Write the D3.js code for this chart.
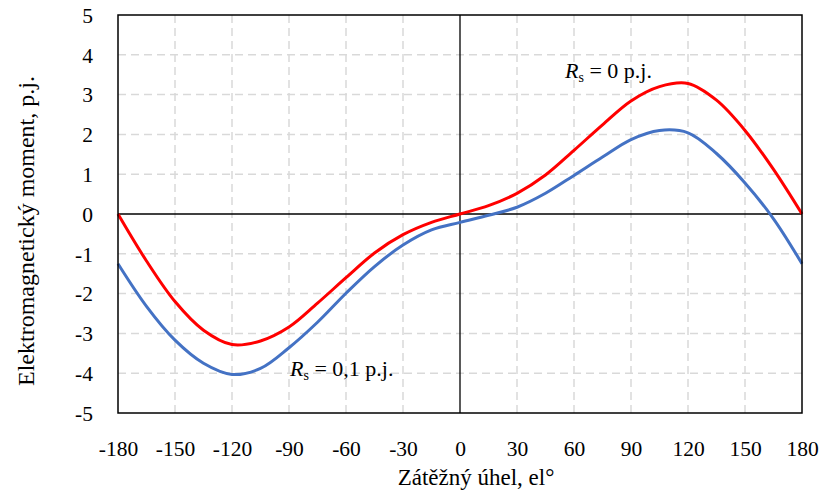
<!DOCTYPE html>
<html>
<head>
<meta charset="utf-8">
<script src="https://cdn.jsdelivr.net/npm/d3@7"></script>
<style>
  body { margin: 0; background: #fff; }
  text { font-family: "Liberation Serif", serif; fill: #000; }
</style>
</head>
<body>
<div id="chart"></div>
<script>
// load angle in el. degrees, torque in p.u.
const xTicks = [-180, -150, -120, -90, -60, -30, 0, 30, 60, 90, 120, 150, 180];
const yTicks = [-5, -4, -3, -2, -1, 0, 1, 2, 3, 4, 5];

const angles = [-180, -165, -150, -135, -120, -105, -90, -75, -60, -45, -30, -15, 0,
                15, 30, 45, 60, 75, 90, 105, 120, 135, 150, 165, 180];

// Rs = 0 p.j.
const redValues = [0, -1.18, -2.2, -2.92, -3.28, -3.19, -2.84, -2.24, -1.6, -0.98, -0.52, -0.21, 0,
                   0.21, 0.52, 0.98, 1.6, 2.24, 2.84, 3.2, 3.28, 2.86, 2.1, 1.12, 0];

// Rs = 0,1 p.j.
const blueValues = [-1.25, -2.32, -3.17, -3.75, -4.03, -3.88, -3.36, -2.72, -1.99, -1.32, -0.78, -0.4, -0.21,
                    -0.03, 0.17, 0.52, 0.97, 1.43, 1.87, 2.1, 2.04, 1.52, 0.78, -0.12, -1.25];

const W = 822, H = 500;
const pLeft = 118, pRight = 802, pTop = 15, pBottom = 413;

let svg = d3.select("#chart")
  .append("svg")
    .attr("width", W)
    .attr("height", H)
;

let x = d3.scaleLinear().domain([-180, 180]).range([pLeft, pRight]);
let y = d3.scaleLinear().domain([-5, 5]).range([pBottom, pTop]);

// dashed grid
let grid = svg.append("g").attr("class", "grid");
grid.selectAll("line.v")
  .data(xTicks.filter(d => d !== 0 && Math.abs(d) !== 180))
  .enter().append("line")
    .attr("class", "v")
    .attr("x1", d => x(d)).attr("x2", d => x(d))
    .attr("y1", pTop).attr("y2", pBottom);
grid.selectAll("line.h")
  .data(yTicks.filter(d => d !== 0 && Math.abs(d) !== 5))
  .enter().append("line")
    .attr("class", "h")
    .attr("x1", pLeft).attr("x2", pRight)
    .attr("y1", d => y(d)).attr("y2", d => y(d));
grid.selectAll("line")
  .attr("stroke", "#d9d9d9")
  .attr("stroke-width", 1.5)
  .attr("stroke-dasharray", "8,5");

// zero axes
svg.append("line")
  .attr("x1", pLeft).attr("x2", pRight)
  .attr("y1", y(0)).attr("y2", y(0))
  .attr("stroke", "#000").attr("stroke-width", 1.3);
svg.append("line")
  .attr("x1", x(0)).attr("x2", x(0))
  .attr("y1", pTop).attr("y2", pBottom)
  .attr("stroke", "#000").attr("stroke-width", 1.3);

// tick labels (plain hyphen as minus, like the original)
let xAxis = svg.append("g")
  .attr("transform", `translate(0,${pBottom})`)
  .call(d3.axisBottom(x).tickValues(xTicks).tickSize(0).tickPadding(43).tickFormat(d => String(d)));
let yAxis = svg.append("g")
  .attr("transform", `translate(${pLeft},0)`)
  .call(d3.axisLeft(y).tickValues(yTicks).tickSize(0).tickPadding(25).tickFormat(d => String(d)));
[xAxis, yAxis].forEach(a => {
  a.select(".domain").remove();
  a.selectAll("text")
    .attr("font-family", "Liberation Serif, serif")
    .attr("font-size", 21.5)
    .attr("fill", "#000");
});
xAxis.selectAll("text").attr("dy", 0);
yAxis.selectAll("text").attr("dy", "0.34em");

// curves
let line = d3.line()
  .x(d => x(d[0]))
  .y(d => y(d[1]))
  .curve(d3.curveCatmullRom.alpha(0.5));

let series = [
  {color: "#4472c4", pts: d3.zip(angles, blueValues)},
  {color: "#ff0000", pts: d3.zip(angles, redValues)}
];
svg.selectAll("path.curve").data(series).enter()
  .append("path")
    .attr("class", "curve")
    .attr("d", d => line(d.pts))
    .attr("fill", "none")
    .attr("stroke", d => d.color)
    .attr("stroke-width", 3)
;

// plot frame
svg.append("rect")
  .attr("x", pLeft).attr("y", pTop)
  .attr("width", pRight - pLeft).attr("height", pBottom - pTop)
  .attr("fill", "none")
  .attr("stroke", "#000")
  .attr("stroke-width", 1.5);

// labels on the curves
function rsLabel(px, py, rest) {
  let t = svg.append("text")
    .attr("x", px).attr("y", py)
    .attr("font-size", 22);
  t.append("tspan").attr("font-style", "italic").text("R");
  t.append("tspan").attr("font-size", 14).attr("dy", 4).text("s");
  t.append("tspan").attr("dy", -4).text(" = " + rest);
}
rsLabel(565, 78, "0 p.j.");
rsLabel(290, 376, "0,1 p.j.");

// axis titles
svg.append("text")
  .attr("x", 476).attr("y", 485)
  .attr("text-anchor", "middle")
  .attr("font-size", 23)
  .text("Zátěžný úhel, el°");

svg.append("text")
  .attr("transform", "translate(34,231) rotate(-90)")
  .attr("text-anchor", "middle")
  .attr("font-size", 24)
  .text("Elektromagnetický moment, p.j.");
</script>
</body>
</html>
